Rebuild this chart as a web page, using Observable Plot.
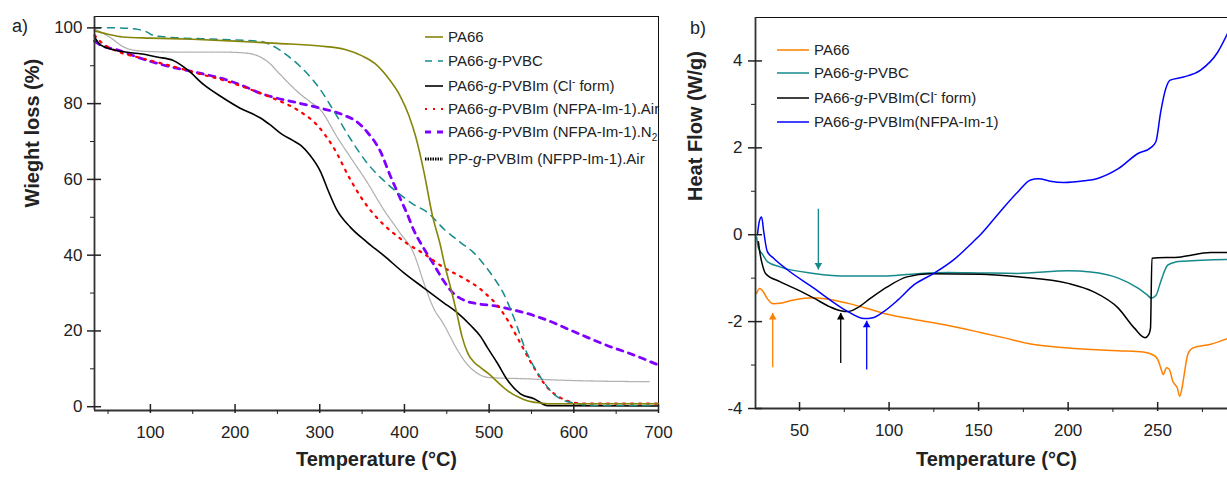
<!DOCTYPE html>
<html><head><meta charset="utf-8">
<script src="https://cdn.jsdelivr.net/npm/d3@7"></script>
<script src="https://cdn.jsdelivr.net/npm/@observablehq/plot@0.6"></script>
<style>
body{margin:0;background:#fff;font-family:"Liberation Sans",Arial,sans-serif;}
#wrap{position:relative;width:1227px;height:477px;overflow:hidden;background:#fff;}
.panel{position:absolute;top:0;}
.plab{position:absolute;font-size:18px;line-height:18px;color:#222;}
.row{position:absolute;height:18px;line-height:18px;font-size:15px;color:#222;white-space:nowrap;display:flex;align-items:center;}
.row svg{flex:none;}
.row sup{font-size:10px;vertical-align:6px;line-height:0;}
.row sub{font-size:10px;vertical-align:-4px;line-height:0;}
</style></head>
<body><div id="wrap"><div id="pa" class="panel" style="left:0"></div><div id="pb" class="panel" style="left:680px"></div></div>
<script>
// ---------- Panel a) TGA data: [temperature °C, weight %] ----------
const tgaPA66 = [[34,99.2],[50,98.3],[67,97.6],[100,97.3],[150,97.0],[200,96.5],[250,95.9],[300,95.2],[330,94.3],[350,92.6],[365,90.6],[380,87.0],[395,82.0],[405,77.0],[413,71.5],[423,62.0],[433,50.5],[442,43.0],[448,37.0],[455,31.0],[462,24.5],[468,18.5],[475,14.0],[482,11.8],[490,10.3],[500,8.6],[510,6.5],[522,4.2],[535,2.5],[545,1.6],[560,1.0],[570,0.8],[620,0.8],[700,0.8]];
const tgaPVBC = [[34,100],[60,100],[85,99.6],[95,99.0],[105,97.9],[130,97.4],[180,97.0],[230,96.4],[245,95.2],[260,93.0],[277,89.8],[301,83.6],[316,78.3],[336,70.8],[356,64.3],[375,59.8],[395,56.0],[410,53.5],[427,51.3],[448,46.6],[466,43.4],[481,40.8],[493,37.8],[505,34.2],[517,29.9],[529,23.6],[545,14.0],[561,7.7],[576,3.4],[590,1.5],[600,1.0],[623,0.3],[690,0.3]];
const tgaClForm = [[34,97.6],[41,95.5],[55,94.3],[68,93.7],[90,93.1],[108,92.3],[127,91.4],[144,88.9],[163,85.0],[186,81.5],[206,78.8],[230,76.2],[242,74.3],[256,71.8],[268,70.3],[278,68.9],[288,66.5],[301,62.0],[310,57.0],[320,52.0],[336,47.4],[356,43.4],[375,40.0],[399,35.4],[422,31.5],[446,27.5],[462,24.9],[478,21.5],[490,18.5],[498,15.6],[510,11.4],[522,6.9],[537,3.4],[553,2.1],[569,0.3],[700,0.2]];
const tgaNfpaAir = [[34,98.1],[41,96.4],[61,93.8],[88,92.1],[127,89.8],[159,87.8],[186,86.2],[215,84.0],[245,81.4],[274,78.3],[297,74.3],[316,68.5],[336,60.0],[348,55.5],[363,51.0],[387,45.8],[403,43.1],[422,40.5],[446,36.8],[470,33.9],[490,31.0],[498,29.4],[510,26.7],[522,22.8],[537,16.7],[553,10.3],[569,5.0],[584,2.4],[600,1.1],[616,0.8],[700,0.8]];
const tgaNfpaN2 = [[34,96.5],[41,95.5],[61,94.2],[88,92.0],[115,90.2],[151,88.4],[191,86.2],[206,85.0],[233,82.5],[245,81.7],[274,80.2],[301,78.8],[328,77.0],[345,75.0],[356,72.5],[372,67.2],[383,61.1],[392,56.5],[399,53.0],[403,51.0],[411,46.6],[422,42.1],[434,37.8],[446,33.3],[458,29.9],[474,27.8],[486,27.2],[510,26.5],[522,25.9],[545,24.6],[569,22.8],[592,20.6],[616,18.3],[640,16.1],[663,14.3],[700,11.0]];
const tgaNfppAir = [[34,99.7],[53,97.4],[68,95.0],[88,93.9],[127,93.6],[186,93.6],[215,93.3],[228,92.5],[240,90.8],[252,88.0],[265,85.0],[277,82.5],[288,80.6],[301,78.3],[321,71.0],[340,64.6],[355,59.6],[375,52.2],[395,45.8],[411,40.5],[422,33.3],[434,26.2],[446,21.9],[462,15.2],[474,11.2],[482,9.5],[490,8.3],[500,7.7],[540,7.4],[600,6.9],[690,6.6]];
const tgaXTicks = [100,200,300,400,500,600,700];
const tgaXMinor = [50,150,250,350,450,550,650];
const tgaYTicks = [0,20,40,60,80,100];
const tgaYMinor = [10,30,50,70,90];
const tgaLegend = ["PA66","PA66-<i>g</i>-PVBC","PA66-<i>g</i>-PVBIm (Cl<sup>-</sup> form)","PA66-<i>g</i>-PVBIm (NFPA-Im-1).Air","PA66-<i>g</i>-PVBIm (NFPA-Im-1).N<sub>2</sub>","PP-<i>g</i>-PVBIm (NFPP-Im-1).Air"];

// ---------- Panel b) DSC data: [temperature °C, heat flow W/g] ----------
const dscPA66 = [[26,-1.35],[27.7,-1.24],[30,-1.33],[32,-1.47],[35.5,-1.59],[39,-1.58],[46.6,-1.5],[58,-1.45],[67,-1.49],[77,-1.58],[88,-1.7],[99,-1.83],[114,-1.95],[133,-2.09],[151,-2.25],[165,-2.38],[177,-2.5],[200,-2.61],[228,-2.67],[242,-2.7],[248,-2.78],[250,-2.87],[252,-3.1],[253,-3.22],[255,-3.06],[256.5,-3.1],[258.5,-3.38],[261,-3.53],[262.3,-3.72],[263.5,-3.55],[264.5,-3.3],[267,-2.73],[270,-2.6],[279.6,-2.52],[289,-2.39]];
const dscPVBC = [[26,-0.05],[27,-0.3],[29.3,-0.45],[32,-0.62],[39,-0.74],[58,-0.89],[77,-0.95],[99,-0.95],[117.6,-0.89],[133,-0.87],[151,-0.88],[172,-0.89],[200,-0.83],[212.6,-0.86],[228,-1.0],[239,-1.23],[244,-1.38],[246.5,-1.46],[249,-1.4],[251.7,-1.08],[255.6,-0.7],[260,-0.63],[264.5,-0.61],[289,-0.57]];
const dscClForm = [[27,-0.16],[28,-0.45],[29.3,-0.7],[31,-0.89],[39,-1.08],[49,-1.27],[58,-1.46],[67,-1.66],[73,-1.75],[77,-1.77],[82,-1.69],[89.7,-1.46],[99,-1.2],[110,-0.97],[123,-0.9],[151,-0.91],[172,-0.97],[200,-1.12],[214,-1.31],[228,-1.69],[237,-2.15],[243,-2.37],[245,-2.3],[246,-2.15],[246.8,-0.54],[263,-0.51],[279.6,-0.41],[289,-0.41]];
const dscNfpa = [[26.5,0.0],[27.5,0.3],[28.8,0.41],[30,0.07],[32,-0.39],[35.5,-0.54],[43,-0.8],[58,-1.23],[67,-1.5],[77,-1.77],[86,-1.93],[91,-1.91],[97,-1.77],[105,-1.5],[114,-1.15],[125,-0.89],[136,-0.58],[147,-0.16],[151,0.0],[162,0.53],[172,0.99],[179,1.26],[183.5,1.29],[190,1.23],[197.5,1.2],[209,1.24],[216,1.29],[228,1.52],[239,1.87],[246,2.0],[249,2.14],[251.7,2.83],[254.5,3.36],[257,3.56],[264.5,3.63],[274,3.79],[283.5,4.2],[289,4.63]];
const arrowT = [35, 60.5, 73, 87.5];
const arrowTail = [-3.05, 0.6, -2.95, -3.1];
const arrowTip = [-1.8, -0.8, -1.8, -1.98];
const dscXTicks = [50,100,150,200,250];
const dscXMinor = [75,125,175,225,275];
const dscYTicks = [-4,-2,0,2,4];
const dscYMinor = [-3,-1,1,3];
const dscLegend = ["PA66","PA66-<i>g</i>-PVBC","PA66-<i>g</i>-PVBIm(Cl<sup>-</sup> form)","PA66-<i>g</i>-PVBIm(NFPA-Im-1)"];

// ---------- styles ----------
const OLIVE="#85850a", TEAL="#168a8a", RED="#ff0000", PURPLE="#8000ff", GRAY="#b0b0b0", ORANGE="#ff8000", BLUE="#0000ff", BLACK="#000";
const tgaStyles = [
  {stroke: OLIVE, strokeWidth: 1.6},
  {stroke: TEAL, strokeWidth: 1.5, strokeDasharray: "7,6"},
  {stroke: BLACK, strokeWidth: 1.6},
  {stroke: RED, strokeWidth: 2.2, strokeDasharray: "2,6"},
  {stroke: PURPLE, strokeWidth: 2.8, strokeDasharray: "6,6"},
  {stroke: GRAY, strokeWidth: 1.3, strokeDasharray: "1.5,1"}
];
const tgaSeries = [tgaPA66, tgaPVBC, tgaClForm, tgaNfpaAir, tgaNfpaN2, tgaNfppAir];
const tgaSwatch = [tgaStyles[0], tgaStyles[1], tgaStyles[2], tgaStyles[3], tgaStyles[4], {stroke: BLACK, strokeWidth: 3, strokeDasharray: "1.5,1"}];
const dscColors = [ORANGE, TEAL, BLACK, BLUE];
const dscSeries = [dscPA66, dscPVBC, dscClForm, dscNfpa];

const fmt = d => String(d);
const X = d => d[0], Y = d => d[1];
const baseStyle = {fontFamily: "Liberation Sans, Arial, sans-serif", fontSize: "17px", color: "#222", background: "white", overflow: "visible"};

// ---------- Panel a ----------
const xa0 = 34, xa1 = 700, ya0 = -1, ya1 = 103;
const figA = Plot.plot({
  width: 680, height: 477, marginLeft: 94, marginRight: 22, marginTop: 16, marginBottom: 67,
  style: baseStyle,
  x: {domain: [xa0, xa1]},
  y: {domain: [ya0, ya1]},
  marks: [
    Plot.frame({stroke: "#111", strokeWidth: 1}),
    ...tgaSeries.map((s, i) => Plot.line(s, {x: X, y: Y, curve: "monotone-x", ...tgaStyles[i]})).reverse(),
    Plot.ruleX([xa0], {stroke: "#333", strokeWidth: 1.8}),
    Plot.ruleY([ya0], {stroke: "#333", strokeWidth: 1.8}),
    Plot.axisX(tgaXTicks, {tickSize: 9, dy: -6, text: null, label: null, strokeWidth: 1.5}),
    Plot.axisX(tgaXTicks, {tickSize: 0, tickPadding: 15, tickFormat: fmt, label: null}),
    Plot.axisX(tgaXMinor, {tickSize: 4, text: null, label: null}),
    Plot.axisY(tgaYTicks, {tickSize: 14, dx: 7, text: null, label: null, strokeWidth: 1.5}),
    Plot.axisY(tgaYTicks, {tickSize: 0, tickPadding: 12, tickFormat: fmt, label: null}),
    Plot.axisY(tgaYMinor, {tickSize: 4, text: null, label: null}),
    Plot.text(["Temperature (°C)"], {text: d => d, frameAnchor: "bottom", dy: 55, fontWeight: "bold", fontSize: 20}),
    Plot.text(["Wieght loss (%)"], {text: d => d, frameAnchor: "left", rotate: -90, dx: -62, dy: -6, fontWeight: "bold", fontSize: 20})
  ]
});
document.getElementById("pa").appendChild(figA);

// ---------- Panel b ----------
const xb0 = 25.4, xb1 = 289, yb0 = -4, yb1 = 5;
const arrows = arrowT.map((t, i) => ({t, tail: arrowTail[i], tip: arrowTip[i], color: dscColors[i]}));
const figB = Plot.plot({
  width: 547, height: 477, marginLeft: 75, marginRight: 0, marginTop: 17, marginBottom: 69,
  style: baseStyle,
  x: {domain: [xb0, xb1]},
  y: {domain: [yb0, yb1]},
  marks: [
    Plot.ruleY([yb1], {stroke: "#111", strokeWidth: 1.2}),
    ...dscSeries.map((s, i) => Plot.line(s, {x: X, y: Y, curve: "monotone-x", stroke: dscColors[i], strokeWidth: 1.5})),
    Plot.link(arrows, {x1: "t", x2: "t", y1: "tail", y2: "tip", stroke: "color", strokeWidth: 1.3}),
    Plot.dot(arrows.filter(a => a.tip > a.tail), {x: "t", y: "tip", symbol: "triangle", r: 2.8, fill: "color", dy: 4.3}),
    Plot.dot(arrows.filter(a => a.tip < a.tail), {x: "t", y: "tip", symbol: "triangle", r: 2.8, fill: "color", rotate: 180, dy: -4.3}),
    Plot.ruleX([xb0], {stroke: "#333", strokeWidth: 1.8}),
    Plot.ruleY([yb0], {stroke: "#333", strokeWidth: 1.8}),
    Plot.axisX(dscXTicks, {tickSize: 9, dy: -6, text: null, label: null, strokeWidth: 1.5}),
    Plot.axisX(dscXTicks, {tickSize: 0, tickPadding: 15, tickFormat: fmt, label: null}),
    Plot.axisX(dscXMinor, {tickSize: 4, text: null, label: null}),
    Plot.axisY(dscYTicks, {tickSize: 14, dx: 7, text: null, label: null, strokeWidth: 1.5}),
    Plot.axisY(dscYTicks, {tickSize: 0, tickPadding: 13, tickFormat: fmt, label: null}),
    Plot.axisY(dscYMinor, {tickSize: 4, text: null, label: null}),
    Plot.text(["Temperature (°C)"], {text: d => d, frameAnchor: "bottom", dy: 57, dx: 5, fontWeight: "bold", fontSize: 20}),
    Plot.text(["Heat Flow (W/g)"], {text: d => d, frameAnchor: "left", rotate: -90, dx: -60, dy: -12, fontWeight: "bold", fontSize: 20})
  ]
});
document.getElementById("pb").appendChild(figB);

// ---------- overlays: panel letters and legends ----------
function addText(parent, html, left, top, cls) {
  const d = document.createElement("div");
  d.className = cls; d.innerHTML = html;
  d.style.left = left + "px"; d.style.top = top + "px";
  parent.appendChild(d);
  return d;
}
function swatch(w, st) {
  const dash = st.strokeDasharray ? `stroke-dasharray="${st.strokeDasharray}"` : "";
  return `<svg width="${w}" height="18" style="margin-right:5px"><line x1="0" x2="${w}" y1="9" y2="9" stroke="${st.stroke}" stroke-width="${st.strokeWidth}" ${dash}/></svg>`;
}
const pa = document.getElementById("pa"), pb = document.getElementById("pb");
addText(pa, "a)", 12, 17, "plab");
addText(pb, "b)", 10, 19, "plab");
const legA = [37, 61, 86, 109, 132, 159];
tgaLegend.forEach((t, i) => addText(pa, swatch(18, tgaSwatch[i]) + `<span>${t}</span>`, 425, legA[i] - 9, "row"));
const legB = [50, 73, 98, 122];
dscLegend.forEach((t, i) => addText(pb, swatch(32, {stroke: dscColors[i], strokeWidth: 1.5}) + `<span>${t}</span>`, 97, legB[i] - 9, "row"));
</script>
</body></html>
